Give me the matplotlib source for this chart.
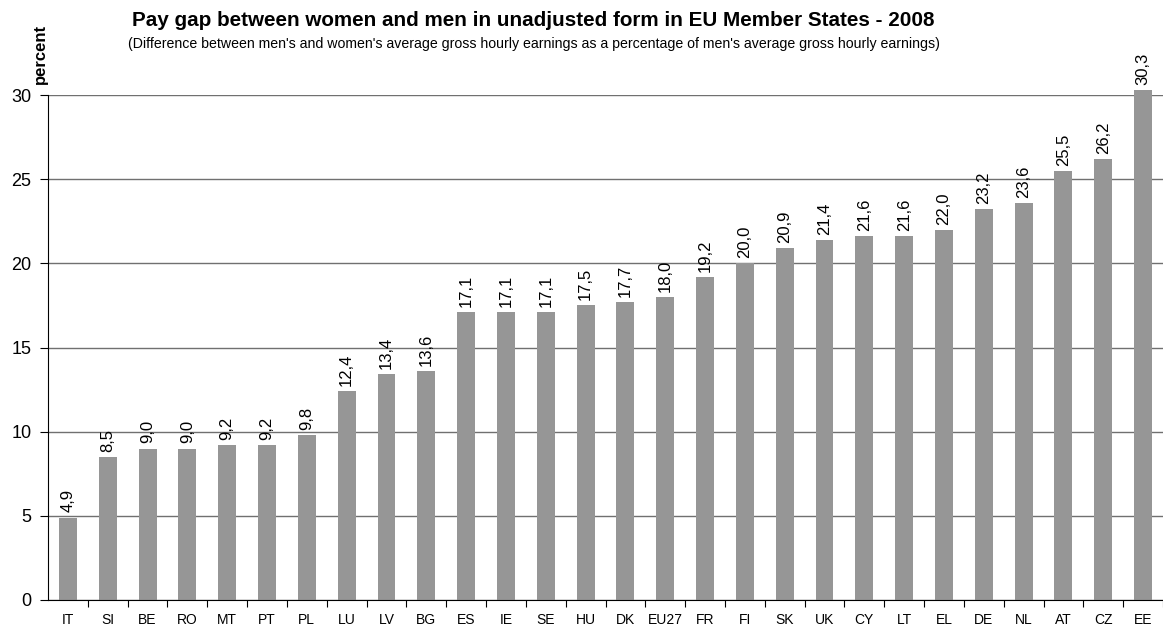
import numpy as np
import matplotlib.pyplot as plt

countries = ['IT', 'SI', 'BE', 'RO', 'MT', 'PT', 'PL', 'LU', 'LV', 'BG', 'ES', 'IE', 'SE', 'HU',
             'DK', 'EU27', 'FR', 'FI', 'SK', 'UK', 'CY', 'LT', 'EL', 'DE', 'NL', 'AT', 'CZ', 'EE']
gap = [4.9, 8.5, 9.0, 9.0, 9.2, 9.2, 9.8, 12.4, 13.4, 13.6, 17.1, 17.1, 17.1, 17.5,
       17.7, 18.0, 19.2, 20.0, 20.9, 21.4, 21.6, 21.6, 22.0, 23.2, 23.6, 25.5, 26.2, 30.3]
yticks = [0, 5, 10, 15, 20, 25, 30]

plt.rcParams['font.family'] = ['Liberation Sans', 'DejaVu Sans']

fig = plt.figure(figsize=(11.63, 6.25), dpi=100)
ax = fig.add_axes([48 / 1163, 1 - 600 / 625, 1 - 48 / 1163, (600 - 95) / 625])

x = np.arange(len(countries))
ax.set_axisbelow(True)
ax.yaxis.grid(True, color='#707070', linewidth=1.0)
ax.bar(x, gap, width=0.45, color='#969696', clip_on=False, zorder=2)

for xi, v in zip(x, gap):
    ax.text(xi, v + 0.3, f'{v:.1f}'.replace('.', ','), rotation=90, ha='center', va='bottom',
            fontsize=12, color='black')

ax.set_xlim(-0.5, len(countries) - 0.57)
ax.set_ylim(0, 30)
ax.set_yticks(yticks)
ax.set_yticklabels([str(t) for t in yticks], fontsize=13)
ax.set_xticks(x)
ax.set_xticklabels(countries, fontsize=10)
ax.set_xticks(np.arange(len(countries)) + 0.5, minor=True)
ax.tick_params(axis='x', which='major', length=0, pad=9)
ax.tick_params(axis='x', which='minor', length=5, direction='out', width=0.8)
ax.tick_params(axis='y', length=6, direction='out', width=0.8, pad=6)

ax.spines['top'].set_visible(False)
ax.spines['right'].set_visible(False)
ax.spines['left'].set_color('black')
ax.spines['bottom'].set_color('black')

fig.text(533 / 1163, 1 - 20 / 625, 'Pay gap between women and men in unadjusted form in EU Member States - 2008',
         ha='center', va='center', fontsize=14.9, fontweight='bold')
fig.text(128 / 1163, 1 - 44 / 625,
         "(Difference between men's and women's average gross hourly earnings as a percentage of men's average gross hourly earnings)",
         ha='left', va='center', fontsize=10.15)
fig.text(40 / 1163, 1 - 54 / 625, 'percent', rotation=90, ha='center', va='center',
         fontsize=12, fontweight='bold')

fig.savefig('out.png', dpi=100)
